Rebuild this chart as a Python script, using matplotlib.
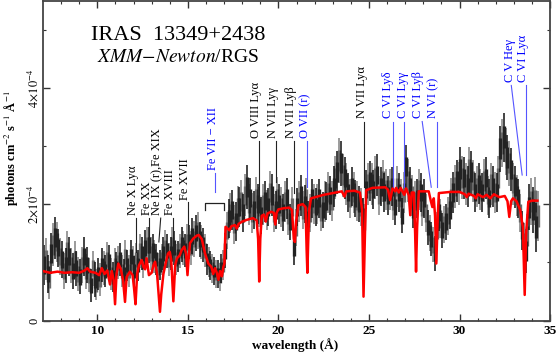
import numpy as np
import matplotlib
matplotlib.use('Agg')
import matplotlib.pyplot as plt

# flux in units of 1e-4 photons cm^-2 s^-1 A^-1
# RGS data, two interleaved series (black / grey), 0.2 A bins
wl_black = np.arange(7.05, 34.26, 0.2)
wl_grey = np.arange(7.15, 34.36, 0.2)

flux_black = [
    0.95, 0.80, 1.15, 1.42, 1.25,  1.05, 0.95, 1.10, 0.85, 0.90,
    0.75, 1.10, 0.95, 0.60, 0.70,  0.80, 0.95, 0.85, 1.00, 0.75,
    0.90, 1.05, 0.80, 0.95, 1.10,  0.85, 0.95, 1.15, 1.25, 1.30,
    1.20, 1.05, 0.95, 1.15, 1.20,  1.15, 1.25, 1.10, 1.30, 1.20,
    1.35, 1.45, 1.50, 1.40, 1.30,  1.05, 0.95, 0.85, 0.80, 0.90,
    1.20, 1.75, 1.90, 1.70, 1.95,  1.85, 2.30, 2.10, 1.90, 2.00,
    1.80, 2.05, 1.95, 2.15, 1.90,  2.00, 1.85, 2.10, 1.70, 1.25,
    1.95, 2.15, 2.00, 1.75, 2.10,  1.95, 2.10, 1.90, 2.05, 2.15,
    2.30, 2.55, 2.70, 2.45, 2.20,  2.30, 2.10, 2.00, 1.80, 2.25,
    2.40, 2.25, 2.50, 2.30, 2.20,  2.15, 2.30, 1.95, 2.20, 1.80,
    2.65, 2.30, 1.90, 2.10, 2.20,  2.10, 1.60, 1.40, 1.15, 1.85,
    1.55, 1.70, 1.90, 2.20, 2.40,  2.60, 2.45, 2.30, 2.55, 2.20,
    2.35, 2.20, 2.45, 2.10, 2.30,  2.20, 2.95, 3.15, 2.80, 2.60,
    2.30, 2.10, 1.55, 1.20, 1.95,  1.90, 1.60]
err_black = [
    0.34, 0.32, 0.35, 0.36, 0.33,  0.32, 0.30, 0.33, 0.31, 0.30,
    0.30, 0.33, 0.31, 0.28, 0.30,  0.27, 0.29, 0.28, 0.30, 0.26,
    0.27, 0.28, 0.26, 0.27, 0.29,  0.26, 0.27, 0.29, 0.30, 0.31,
    0.29, 0.27, 0.26, 0.28, 0.29,  0.28, 0.29, 0.27, 0.30, 0.28,
    0.30, 0.31, 0.31, 0.30, 0.29,  0.26, 0.25, 0.24, 0.24, 0.25,
    0.30, 0.33, 0.35, 0.33, 0.35,  0.33, 0.38, 0.35, 0.33, 0.34,
    0.32, 0.35, 0.33, 0.36, 0.33,  0.34, 0.32, 0.35, 0.31, 0.30,
    0.33, 0.35, 0.33, 0.31, 0.34,  0.32, 0.34, 0.31, 0.33, 0.34,
    0.35, 0.37, 0.38, 0.36, 0.33,  0.34, 0.32, 0.31, 0.30, 0.34,
    0.35, 0.33, 0.36, 0.34, 0.33,  0.33, 0.34, 0.31, 0.33, 0.30,
    0.37, 0.34, 0.31, 0.33, 0.33,  0.33, 0.30, 0.29, 0.30, 0.32,
    0.30, 0.31, 0.33, 0.35, 0.36,  0.38, 0.36, 0.35, 0.37, 0.34,
    0.35, 0.34, 0.36, 0.33, 0.35,  0.34, 0.40, 0.42, 0.39, 0.37,
    0.36, 0.34, 0.33, 0.38, 0.40,  0.40, 0.42]

flux_grey = [
    1.05, 0.70, 1.30, 1.35, 1.10,  0.85, 1.20, 0.95, 1.05, 0.80,
    0.95, 0.85, 0.78, 0.90, 0.62,  0.70, 0.90, 1.05, 0.80, 0.95,
    1.00, 0.85, 1.10, 0.85, 1.00,  1.05, 1.20, 1.00, 1.30, 1.15,
    1.10, 0.90, 1.05, 1.25, 1.05,  1.30, 1.05, 1.20, 1.25, 1.35,
    1.25, 1.40, 1.55, 1.35, 1.20,  1.00, 0.90, 0.80, 0.75, 0.95,
    1.55, 1.85, 1.65, 1.95, 2.05,  2.15, 2.00, 1.85, 2.10, 1.95,
    2.00, 1.90, 2.20, 1.85, 2.10,  1.95, 2.05, 1.80, 1.95, 1.60,
    2.05, 1.90, 2.10, 1.85, 2.00,  2.00, 1.85, 2.05, 2.20, 2.05,
    2.45, 2.75, 2.50, 2.35, 2.10,  2.20, 2.05, 1.95, 1.70, 2.35,
    2.35, 2.45, 2.15, 2.40, 2.25,  2.25, 2.05, 2.30, 2.10, 2.20,
    2.40, 2.15, 2.05, 2.25, 1.95,  1.85, 1.50, 1.30, 1.55, 1.75,
    1.65, 1.80, 2.10, 2.30, 2.35,  2.45, 2.35, 2.60, 2.40, 2.30,
    2.25, 2.40, 2.15, 2.35, 2.20,  2.45, 3.05, 2.90, 2.70, 2.35,
    2.15, 1.85, 1.35, 1.45, 2.05,  2.05, 1.80]
err_grey = [
    0.36, 0.33, 0.37, 0.35, 0.32,  0.31, 0.34, 0.30, 0.32, 0.29,
    0.31, 0.30, 0.29, 0.30, 0.27,  0.28, 0.29, 0.30, 0.27, 0.29,
    0.28, 0.27, 0.29, 0.27, 0.28,  0.28, 0.29, 0.27, 0.31, 0.29,
    0.28, 0.26, 0.27, 0.30, 0.28,  0.30, 0.27, 0.29, 0.29, 0.31,
    0.29, 0.31, 0.32, 0.30, 0.28,  0.26, 0.25, 0.24, 0.24, 0.26,
    0.32, 0.34, 0.33, 0.36, 0.37,  0.36, 0.35, 0.34, 0.36, 0.34,
    0.35, 0.34, 0.37, 0.33, 0.36,  0.34, 0.35, 0.33, 0.34, 0.32,
    0.35, 0.33, 0.35, 0.33, 0.34,  0.34, 0.32, 0.35, 0.36, 0.34,
    0.37, 0.39, 0.37, 0.36, 0.34,  0.35, 0.34, 0.33, 0.31, 0.36,
    0.36, 0.37, 0.34, 0.36, 0.35,  0.35, 0.33, 0.35, 0.34, 0.35,
    0.37, 0.35, 0.34, 0.35, 0.33,  0.33, 0.31, 0.30, 0.32, 0.34,
    0.32, 0.33, 0.35, 0.37, 0.37,  0.37, 0.36, 0.38, 0.36, 0.35,
    0.35, 0.37, 0.34, 0.36, 0.35,  0.37, 0.41, 0.40, 0.38, 0.36,
    0.35, 0.33, 0.33, 0.38, 0.40,  0.41, 0.43]

# absorption model (red)
model_wl = [
    7.0, 7.4, 7.8, 8.2, 8.6, 9.0, 9.3, 9.45, 9.6, 9.9, 10.1, 10.25, 10.4,
    10.55, 10.7, 10.8, 10.9, 10.98, 11.06, 11.16, 11.3, 11.42, 11.53, 11.62,
    11.8, 11.95, 12.03, 12.11, 12.2, 12.3, 12.45, 12.55, 12.64, 12.72, 12.85,
    13.0, 13.1, 13.19, 13.3, 13.4, 13.46, 13.53, 13.65, 13.8, 13.9, 14.0,
    14.08, 14.2, 14.3, 14.4, 14.55, 14.66, 14.8, 14.9, 14.98, 15.05, 15.12,
    15.3, 15.5, 15.6, 15.77, 15.95, 16.13, 16.3, 16.4, 16.5, 16.6, 16.69,
    16.78, 16.88, 16.96, 17.02, 17.08, 17.3, 17.4, 17.6, 17.7, 17.8, 18.0,
    18.25, 18.6, 18.8, 18.88, 18.94, 19.0, 19.08, 19.2, 19.3, 19.4, 19.6,
    19.75, 19.83, 19.9, 20.0, 20.3, 20.6, 20.75, 20.85, 20.91, 20.98, 21.1,
    21.35, 21.5, 21.56, 21.6, 21.64, 21.7, 21.8, 22.5, 23.0, 23.5, 23.65,
    23.75, 24.2, 24.5, 24.62, 24.7, 24.78, 24.85, 25.2, 25.9, 26.05, 26.17,
    26.3, 26.45, 26.5, 26.65, 26.75, 26.95, 27.05, 27.2, 27.28, 27.36,
    27.48, 27.55, 27.6, 27.66, 27.75, 28.3, 28.42, 28.5, 28.58, 28.65,
    28.72, 28.8, 28.86, 29.5, 30.0, 30.3, 30.4, 30.5, 30.8, 30.9, 31.0,
    31.3, 31.5, 31.7, 31.9, 32.2, 32.5, 32.65, 32.75, 32.85, 32.95, 33.15,
    33.35, 33.5, 33.6, 33.68, 33.8, 34.0, 34.3]
model_flux = [
    0.85, 0.82, 0.84, 0.82, 0.83, 0.82, 0.86, 0.90, 0.84, 0.82, 0.78, 0.90, 0.80,
    0.86, 0.62, 0.85, 0.70, 0.28, 0.80, 0.98, 0.88, 0.70, 0.32, 0.75,
    0.84, 0.78, 0.55, 0.28, 0.80, 0.95, 1.04, 0.92, 0.88, 1.07, 0.78,
    0.82, 0.95, 1.01, 0.80, 0.40, 0.15, 0.45, 0.80, 1.02, 1.15, 1.18,
    1.05, 0.33, 0.95, 1.07, 1.12, 1.21, 1.27, 1.15, 0.78, 1.10, 1.33,
    1.41, 1.46, 1.47, 1.40, 1.15, 0.98, 0.92, 0.80, 0.90, 0.82, 0.70,
    0.85, 0.76, 0.92, 0.98, 1.61, 1.55, 1.62, 1.64, 1.58, 1.66, 1.70,
    1.73, 1.76, 1.72, 1.40, 0.67, 1.40, 1.80, 1.82, 1.70, 1.84, 1.87,
    1.85, 1.65, 1.85, 1.91, 1.93, 1.94, 1.90, 1.40, 1.35, 1.70, 1.98,
    2.00, 1.95, 1.20, 0.82, 1.30, 1.90, 2.10, 2.16, 2.19, 2.22, 2.13,
    2.22, 2.23, 2.20, 1.90, 0.41, 1.50, 2.24, 2.28, 2.29, 2.25, 2.07,
    2.27, 2.22, 2.28, 2.20, 2.28, 2.16, 2.27, 2.15, 1.81, 2.20,
    2.20, 1.50, 0.84, 1.60, 2.22, 2.22, 2.05, 1.95, 2.10, 1.80,
    0.98, 1.80, 2.19, 2.21, 2.21, 2.17, 2.12, 2.18, 2.14, 2.10, 2.17,
    2.12, 2.16, 2.10, 2.17, 2.12, 2.14, 2.05, 1.78, 2.05, 2.10, 2.05,
    1.90, 1.60, 0.44, 1.50, 2.04, 2.06, 2.06]

plt.rcParams['font.family'] = ['Liberation Serif', 'DejaVu Serif']
plt.rcParams['mathtext.fontset'] = 'stix'

fig = plt.figure(figsize=(5.56, 3.53), dpi=100)
ax = fig.add_axes([0.0773, 0.092, 0.912, 0.905])

# data: full error bar thin, core thicker
fb = np.array(flux_black)
eb = np.array(err_black)
fg = np.array(flux_grey)
eg = np.array(err_grey)
ax.vlines(wl_grey, fg - eg, fg + eg, color='#808080', lw=1.1)
ax.vlines(wl_grey, fg - 0.45 * eg, fg + 0.45 * eg, color='#6a6a6a', lw=2.4)
ax.vlines(wl_black, fb - eb, fb + eb, color='#111111', lw=1.1)
ax.vlines(wl_black, fb - 0.45 * eb, fb + 0.45 * eb, color='#222222', lw=2.4)

ax.plot(model_wl, model_flux, color='red', lw=1.8, zorder=5)


def mark(text, xt, yt, x0, y0, x1, y1, color='black', lcolor='#222222'):
    ax.text(xt, yt, text, rotation=90, ha='center', va='bottom',
            fontsize=9, color=color)
    ax.plot([x0, x1], [y0, y1], color=lcolor, lw=0.8)


blue = '#0000ff'
lblue = '#5555ff'
mark('Ne X Ly\u03b1', 11.95, 1.81, 12.13, 1.76, 12.13, 1.18)
mark('Fe XX', 12.73, 1.81, 12.86, 1.76, 12.86, 1.33)
mark('Ne IX (r),Fe XIX', 13.32, 1.81, 13.50, 1.76, 13.40, 1.35)
mark('Fe XVIII', 14.02, 1.81, 14.20, 1.76, 14.20, 1.21)
mark('Fe XVII', 14.85, 2.07, 15.01, 2.03, 15.01, 1.47)
mark('Fe VII \u2212 XII', 16.40, 2.58, 16.50, 2.54, 16.50, 2.21, blue, lblue)
ax.plot([15.92, 15.92, 17.02, 17.02], [1.90, 2.02, 2.02, 1.90],
        color='#222222', lw=0.9)
mark('O VIII Ly\u03b1', 18.77, 3.14, 18.93, 3.08, 18.93, 2.10)
mark('N VII Ly\u03b3', 19.71, 3.14, 19.87, 3.08, 19.87, 2.38)
mark('N VII Ly\u03b2', 20.68, 3.14, 20.87, 3.08, 20.87, 2.19)
mark('O VII (r)', 21.48, 3.14, 21.59, 3.08, 21.59, 2.29, blue, lblue)
mark('N VII Ly\u03b1', 24.62, 3.48, 24.73, 3.42, 24.73, 2.29)
mark('C VI Ly\u03b4', 26.06, 3.48, 26.34, 3.42, 26.34, 2.29, blue, lblue)
mark('C VI Ly\u03b3', 26.89, 3.48, 26.94, 3.42, 26.94, 2.29, blue, lblue)
mark('C VI Ly\u03b2', 27.72, 3.48, 27.94, 3.42, 28.44, 2.29, blue, lblue)
mark('N VI (r)', 28.55, 3.48, 28.77, 3.42, 28.77, 2.29, blue, lblue)
mark('C V He\u03b3', 32.80, 4.10, 32.86, 4.04, 33.46, 2.50, blue, lblue)
mark('C VI Ly\u03b1', 33.52, 4.10, 33.69, 4.04, 33.69, 2.50, blue, lblue)

# source name
ax.text(14.46, 4.90, 'IRAS  13349+2438', fontsize=16, ha='center', va='center')
ax.text(14.46, 4.52, r'$\mathit{XMM}$$-$$\mathit{Newton}$/RGS', fontsize=14,
        ha='center', va='center')

ax.set_xlim(7, 35)
ax.set_ylim(0, 5.49)
ax.set_xticks([10, 15, 20, 25, 30, 35])
ax.set_xticks(range(8, 35), minor=True)
ax.set_yticks([0, 2, 4])
ax.set_yticks([1, 3, 5], minor=True)
ax.set_xticklabels(['10', '15', '20', '25', '30', '35'], fontsize=9.5,
                   fontweight='bold')
ax.set_yticklabels(['0', r'$2\!\times\!10^{-4}$', r'$4\!\times\!10^{-4}$'],
                   fontsize=9, rotation=90, va='center')
ax.tick_params(which='both', direction='in', top=True, right=True,
               color='#333333')
ax.tick_params(which='major', length=5, width=1)
ax.tick_params(which='minor', length=2.5, width=0.8)
ax.tick_params(axis='x', pad=3)
ax.tick_params(axis='y', pad=2)
for s in ax.spines.values():
    s.set_color('#444444')
    s.set_linewidth(1.3)

ax.set_xlabel('wavelength (\u00c5)', fontsize=9.5, fontweight='bold',
              va='center')
ax.xaxis.set_label_coords(0.498, -0.076)
ax.set_ylabel('photons cm$^{-2}$ s$^{-1}$ \u00c5$^{-1}$', fontsize=9,
              fontweight='bold', va='center')
ax.yaxis.set_label_coords(-0.062, 0.54)

plt.savefig('out.png', dpi=100)
